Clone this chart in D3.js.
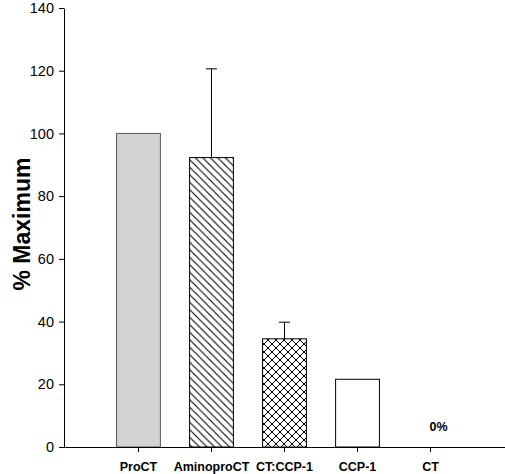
<!DOCTYPE html>
<html>
<head>
<meta charset="utf-8">
<script src="https://cdn.jsdelivr.net/npm/d3@7"></script>
<style>
  html, body { margin: 0; padding: 0; background: #fff; }
  svg { display: block; }
</style>
</head>
<body>
<svg id="chart" width="505" height="474"></svg>
<script>
const categories = ["ProCT", "AminoproCT", "CT:CCP-1", "CCP-1", "CT"];
const values = [100, 92.3, 34.5, 21.6, 0];
const errors = [0, 28.3, 5.3, 0, 0];
const fills = ["solid", "diag", "cross", "none", "none"];
const yTicks = [0, 20, 40, 60, 80, 100, 120, 140];
const yLabel = "% Maximum";
const zeroLabel = "0%";

(function () {
const svg = d3.select("#chart");
const mLeft = 64, mRight = 505, mTop = 8, mBottom = 447;

const x = d3.scaleBand().domain(categories).range([mLeft, mRight])
  .paddingInner(0.4).paddingOuter(0.72);
const y = d3.scaleLinear().domain([0, 140]).range([mBottom, mTop]);

const defs = svg.append("defs");
const pd = defs.append("pattern").attr("id", "diag")
  .attr("patternUnits", "userSpaceOnUse").attr("width", 7.5).attr("height", 7.5);
pd.append("rect").attr("width", 7.5).attr("height", 7.5).attr("fill", "#fff");
pd.append("path").attr("d", "M-1,-1 L8.5,8.5 M-1,6.5 L1,8.5 M6.5,-1 L8.5,1")
  .attr("stroke", "#000").attr("stroke-width", 1.1);

const pc = defs.append("pattern").attr("id", "cross")
  .attr("patternUnits", "userSpaceOnUse").attr("width", 8).attr("height", 8);
pc.append("rect").attr("width", 8).attr("height", 8).attr("fill", "#fff");
pc.append("path").attr("d", "M0,0 L8,8 M8,0 L0,8")
  .attr("stroke", "#000").attr("stroke-width", 1);

const fillOf = f => f === "solid" ? "#d3d3d3" : f === "diag" ? "url(#diag)" : f === "cross" ? "url(#cross)" : "#fff";

const data = categories.map((c, i) => ({ c, v: values[i], e: errors[i], f: fills[i] }));

const eb = svg.append("g");
data.filter(d => d.e > 0).forEach(d => {
  const cx = x(d.c) + x.bandwidth() / 2;
  eb.append("line").attr("x1", cx).attr("x2", cx)
    .attr("y1", y(d.v)).attr("y2", y(d.v + d.e))
    .attr("stroke", "#000").attr("stroke-width", 1);
  eb.append("line").attr("x1", cx - 5.5).attr("x2", cx + 5.5)
    .attr("y1", y(d.v + d.e)).attr("y2", y(d.v + d.e))
    .attr("stroke", "#000").attr("stroke-width", 1);
});

svg.append("g").selectAll("rect").data(data.filter(d => d.v > 0)).join("rect")
  .attr("x", d => x(d.c))
  .attr("y", d => y(d.v))
  .attr("width", x.bandwidth())
  .attr("height", d => y(0) - y(d.v))
  .attr("fill", d => fillOf(d.f))
  .attr("stroke", d => d.f === "solid" ? "#555" : "#000")
  .attr("stroke-width", 1);

data.filter(d => d.v === 0).forEach(d => {
  svg.append("text")
    .attr("x", x(d.c) + x.bandwidth() / 2 + 8)
    .attr("y", y(d.v) - 16)
    .attr("text-anchor", "middle")
    .attr("font-family", "Liberation Sans, Arial, sans-serif")
    .attr("font-weight", "bold").attr("font-size", 12.5)
    .text(zeroLabel);
});

const yAxis = svg.append("g").attr("transform", `translate(${mLeft},0)`)
  .call(d3.axisLeft(y).tickValues(yTicks).tickSize(5).tickSizeOuter(0).tickPadding(5));
yAxis.selectAll("text").attr("font-family", "Liberation Sans, Arial, sans-serif")
  .attr("font-size", 14.5).attr("fill", "#000");
yAxis.selectAll("line, path").attr("stroke", "#000");

const xAxis = svg.append("g").attr("transform", `translate(0,${mBottom})`)
  .call(d3.axisBottom(x).tickSize(5).tickSizeOuter(0).tickPadding(10));
xAxis.selectAll("text").attr("font-family", "Liberation Sans, Arial, sans-serif")
  .attr("font-size", 12.5).attr("font-weight", "bold").attr("fill", "#000");
xAxis.selectAll("line, path").attr("stroke", "#000");
xAxis.select("path.domain").attr("d", `M${mLeft},0.5H${mRight}`);

svg.append("text")
  .attr("transform", "translate(30,224) rotate(-90)")
  .attr("text-anchor", "middle")
  .attr("font-family", "Liberation Sans, Arial, sans-serif")
  .attr("font-weight", "bold").attr("font-size", 23)
  .text(yLabel);
})();
</script>
</body>
</html>
